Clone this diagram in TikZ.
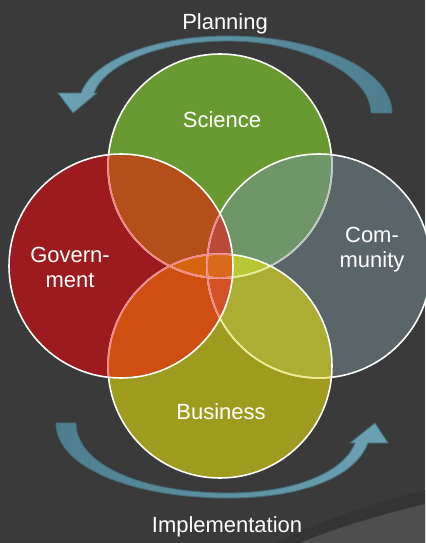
\documentclass[tikz,border=0pt]{standalone}
\usepackage{fontspec}
\setmainfont{Liberation Sans}
\definecolor{bgdark}{HTML}{3A3A3A}
\definecolor{bgshade}{HTML}{343434}
\definecolor{bglight}{HTML}{4E4E4E}
\definecolor{scifill}{HTML}{699A31}
\definecolor{govfill}{HTML}{9B1B1F}
\definecolor{comfill}{HTML}{5A656A}
\definecolor{busfill}{HTML}{9F9B1E}
\definecolor{scigov}{HTML}{B44F1A}
\definecolor{scicom}{HTML}{6E9668}
\definecolor{govbus}{HTML}{CE4F11}
\definecolor{combus}{HTML}{ACAE33}
\definecolor{scigovcom}{HTML}{B94B38}
\definecolor{scigovbus}{HTML}{D7650F}
\definecolor{scicombus}{HTML}{B7C832}
\definecolor{govcombus}{HTML}{D35127}
\definecolor{allfour}{HTML}{DA6A19}
\definecolor{comtint}{HTML}{C0C8C6}
\definecolor{bustint}{HTML}{EDEB8A}
\definecolor{govtint}{HTML}{F4888E}
\definecolor{arrowlight}{HTML}{6CA2B4}
\definecolor{arrowdark}{HTML}{4E7E8E}
\definecolor{arrowedge}{HTML}{46707E}
\tikzset{
    txt/.style={
           text=white,
           font=\fontsize{12.5}{14.2}\selectfont,
           align=center,
           inner sep=0pt,
           },
    ring/.style={
           draw=white,
           line width=0.9pt,
           },
    bigarrow/.style={
           draw=arrowedge,
           line width=0.5pt,
           },
}
\begin{document}
\begin{tikzpicture}[x=0.02cm,y=-0.02cm]
\fill[bgdark] (0,0) rectangle (425,543);
\useasboundingbox (0,0) rectangle (425,543);
\fill[bgshade] (425,490) .. controls (372,503) and (318,522) .. (276,543) -- (425,543) -- cycle;
\fill[bglight] (425,504) .. controls (380,515) and (335,528) .. (300,543) -- (425,543) -- cycle;
\coordinate (sci) at (220,166);
\coordinate (gov) at (121,266);
\coordinate (com) at (319,266);
\coordinate (bus) at (220,366);
\fill[scifill] (sci) circle (112);
\fill[comfill] (com) circle (112);
\fill[busfill] (bus) circle (112);
\fill[govfill] (gov) circle (112);
\begin{scope}
\clip (sci) circle (112);
\fill[scigov] (gov) circle (112);
\fill[scicom] (com) circle (112);
\end{scope}
\begin{scope}
\clip (bus) circle (112);
\fill[govbus] (gov) circle (112);
\fill[combus] (com) circle (112);
\end{scope}
\begin{scope}
\clip (sci) circle (112);
\clip (gov) circle (112);
\fill[scigovcom] (com) circle (112);
\fill[scigovbus] (bus) circle (112);
\end{scope}
\begin{scope}
\clip (com) circle (112);
\clip (bus) circle (112);
\fill[scicombus] (sci) circle (112);
\fill[govcombus] (gov) circle (112);
\end{scope}
\begin{scope}
\clip (sci) circle (112);
\clip (gov) circle (112);
\clip (com) circle (112);
\fill[allfour] (bus) circle (112);
\end{scope}
\draw[ring] (sci) circle (112);
\begin{scope}
\clip (com) circle (112);
\draw[ring, draw=comtint] (sci) circle (112);
\end{scope}
\draw[ring] (com) circle (112);
\begin{scope}
\clip (bus) circle (112);
\foreach \c in {sci,com} \draw[ring, draw=bustint] (\c) circle (112);
\end{scope}
\draw[ring] (bus) circle (112);
\begin{scope}
\clip (gov) circle (112);
\foreach \c in {sci,com,bus} \draw[ring, draw=govtint] (\c) circle (112);
\end{scope}
\draw[ring] (gov) circle (112);
\fill[bigarrow, left color=arrowlight, right color=arrowdark]
  (392,113) .. controls (392,70) and (318,36) .. (228,36)
  .. controls (150,36) and (92,62) .. (81,93)
  -- (58,93) -- (73,113) -- (97,93) -- (94,93)
  .. controls (104,66) and (155,41) .. (228,41)
  .. controls (305,41) and (371,75) .. (371,113) -- cycle;
\fill[bigarrow, left color=arrowdark, right color=arrowlight]
  (56,423) .. controls (56,468) and (135,498) .. (228,498)
  .. controls (300,498) and (355,478) .. (368,443)
  -- (388,443) -- (375,423) -- (350,443) -- (355,443)
  .. controls (344,472) and (295,493) .. (228,493)
  .. controls (145,493) and (76,466) .. (76,423) -- cycle;
\node[txt] (planning) at (225,23.5) {Planning};
\node[txt] (science) at (222,120) {Science};
\node[txt] (government) at (70,267) {Govern-\\ment};
\node[txt] (community) at (372,250) {Com-\\munity};
\node[txt] (business) at (221,412) {Business};
\node[txt] (implementation) at (227,527) {Implementation};
\end{tikzpicture}
\end{document}
